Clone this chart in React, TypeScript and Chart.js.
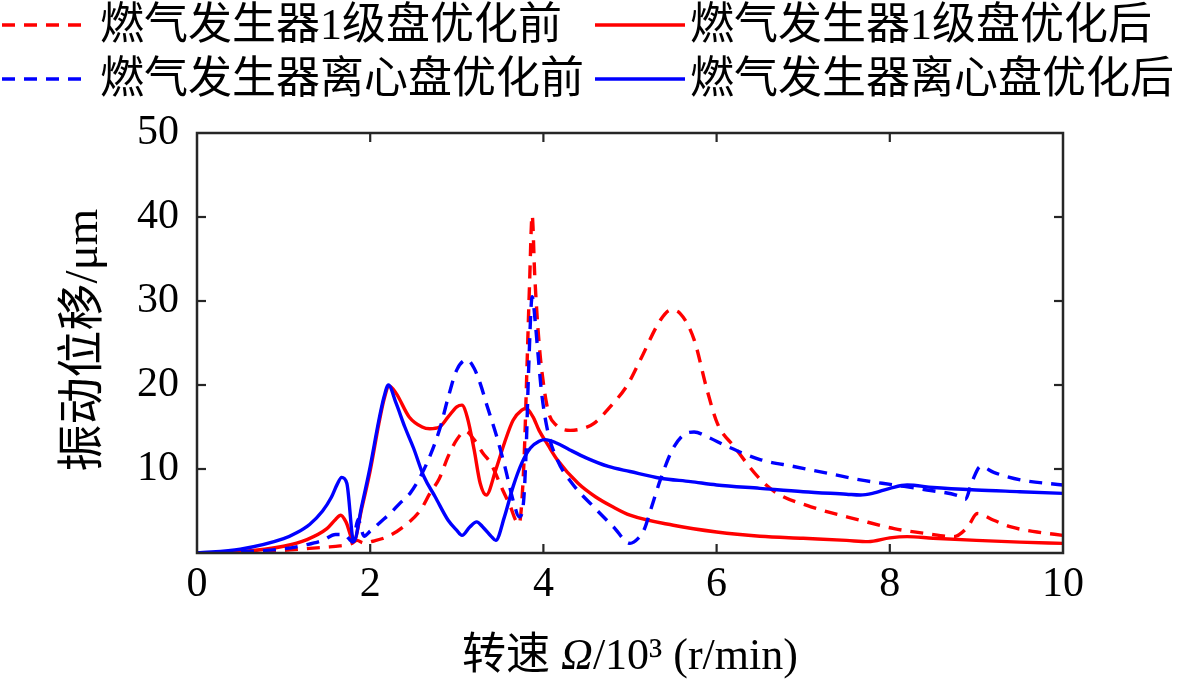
import React, { useEffect, useRef } from "react";
import { Chart, registerables } from "chart.js";

Chart.register(...registerables);

// ---------------- data ----------------
const seriesLabels = [
  "燃气发生器1级盘优化前",
  "燃气发生器1级盘优化后",
  "燃气发生器离心盘优化前",
  "燃气发生器离心盘优化后",
];

const xTicks = [0, 2, 4, 6, 8, 10];
const yTicks = [10, 20, 30, 40, 50];

// 1级盘优化前 (red dashed)
const stage1BeforeX = [0, 0.5, 1.0, 1.3, 1.5, 1.65, 1.78, 1.85, 1.92, 2.05, 2.2, 2.38, 2.58, 2.69, 2.8, 2.9, 3.0, 3.1, 3.2, 3.3, 3.39, 3.53, 3.62, 3.68, 3.72, 3.75, 3.78, 3.81, 3.84, 3.87, 3.9, 3.95, 4.0, 4.06, 4.15, 4.31, 4.45, 4.58, 4.77, 4.97, 5.12, 5.35, 5.47, 5.58, 5.74, 5.89, 6.01, 6.2, 6.51, 6.7, 7.09, 7.66, 8.05, 8.43, 8.74, 8.9, 9.01, 9.2, 9.4, 9.7, 10];
const stage1BeforeY = [0, 0.1, 0.3, 0.55, 0.7, 0.85, 1.1, 1.5, 1.2, 1.45, 1.95, 3.1, 5.1, 7.1, 8.9, 11.5, 13.5, 14.5, 13.5, 11.9, 10.7, 7.5, 5.5, 3.9, 3.5, 6, 12, 22, 32, 40.2, 33, 25, 20.2, 16.7, 15.2, 14.6, 14.8, 15.4, 17.4, 20.0, 23.0, 27.7, 28.9, 28.5, 25.4, 19.4, 15.4, 12.7, 8.7, 7.1, 5.5, 3.9, 2.9, 2.3, 1.95, 3.1, 4.7, 3.9, 3.1, 2.5, 2.1];

// 1级盘优化后 (red solid)
const stage1AfterX = [0, 0.5, 1.0, 1.27, 1.5, 1.6, 1.66, 1.72, 1.81, 1.9, 2.0, 2.1, 2.16, 2.22, 2.3, 2.45, 2.6, 2.69, 2.8, 2.9, 3.0, 3.06, 3.12, 3.2, 3.27, 3.34, 3.45, 3.55, 3.65, 3.75, 3.8, 3.88, 3.95, 4.05, 4.16, 4.4, 4.6, 4.8, 5.0, 5.5, 6.0, 6.5, 7.0, 7.5, 7.75, 8.0, 8.2, 8.5, 9.0, 9.5, 10];
const stage1AfterY = [0, 0.15, 0.8, 1.6, 2.9, 4.0, 4.5, 3.7, 1.4, 5.2, 9.8, 15.4, 18.3, 19.9, 19.0, 16.2, 15.0, 14.8, 15.0, 16.2, 17.4, 17.6, 16.2, 12.3, 8.3, 6.9, 9.9, 13.1, 15.8, 17.0, 17.2, 16.2, 14.6, 12.9, 11.1, 8.3, 6.7, 5.5, 4.5, 3.3, 2.5, 2.0, 1.75, 1.5, 1.35, 1.8, 1.95, 1.75, 1.5, 1.3, 1.15];

// 离心盘优化前 (blue dashed)
const centBeforeX = [0, 0.5, 1.0, 1.27, 1.45, 1.6, 1.7, 1.8, 1.86, 1.93, 2.0, 2.12, 2.23, 2.35, 2.46, 2.58, 2.7, 2.81, 2.9, 3.0, 3.12, 3.2, 3.27, 3.35, 3.46, 3.55, 3.66, 3.72, 3.77, 3.8, 3.83, 3.87, 3.91, 3.94, 3.98, 4.05, 4.16, 4.33, 4.58, 4.81, 5.0, 5.1, 5.16, 5.25, 5.35, 5.5, 5.66, 5.74, 5.9, 6.12, 6.51, 6.89, 7.28, 7.66, 8.05, 8.43, 8.82, 8.87, 8.95, 9.05, 9.2, 9.51, 10];
const centBeforeY = [0, 0.15, 0.5, 1.0, 1.5, 2.2, 2.2, 1.3, 4.0, 2.0, 2.6, 3.7, 4.7, 6.0, 7.1, 9.1, 11.8, 15.0, 18.5, 21.8, 23.0, 22.0, 20.2, 17.5, 13.9, 10.5, 5.9, 4.3, 6.0, 12.0, 22.0, 30.5, 27.0, 23.4, 19.0, 14.5, 11.1, 8.3, 5.5, 3.1, 1.15, 1.8, 2.7, 5.5, 8.7, 12.5, 14.3, 14.4, 13.8, 12.7, 11.1, 10.3, 9.5, 8.7, 8.1, 7.5, 6.7, 6.4, 8.5, 10.3, 9.6, 8.7, 8.1];

// 离心盘优化后 (blue solid)
const centAfterX = [0, 0.5, 1.0, 1.15, 1.3, 1.45, 1.55, 1.62, 1.67, 1.73, 1.81, 1.9, 2.0, 2.1, 2.16, 2.21, 2.3, 2.4, 2.5, 2.62, 2.75, 2.9, 3.0, 3.06, 3.15, 3.23, 3.3, 3.4, 3.45, 3.55, 3.65, 3.75, 3.85, 3.95, 4.02, 4.15, 4.3, 4.5, 4.75, 5.0, 5.35, 5.7, 6.0, 6.5, 7.0, 7.5, 7.66, 7.8, 8.0, 8.2, 8.5, 9.0, 9.5, 10];
const centAfterY = [0, 0.45, 1.7, 2.4, 3.4, 5.0, 6.6, 8.2, 9.0, 8.3, 1.35, 5.5, 10.3, 15.8, 18.6, 20.0, 17.8, 15.0, 12.5, 9.1, 6.7, 3.9, 2.7, 2.1, 3.1, 3.7, 3.1, 1.95, 1.5, 4.3, 7.9, 10.7, 12.5, 13.3, 13.5, 13.1, 12.3, 11.3, 10.3, 9.7, 8.9, 8.5, 8.1, 7.7, 7.3, 7.0, 6.9, 7.1, 7.7, 8.1, 7.8, 7.5, 7.3, 7.1];

const xTitleParts = ["转速 ", "Ω", "/10³ (r/min)"];
const yTitle = "振动位移/μm";

// ---------------- styles / layout ----------------
const W = 1181;
const H = 682;
const AREA = { left: 197, right: 1063, top: 133, bottom: 553 };
const RED = "#ff0000";
const BLUE = "#0000ff";
const DASH = [13, 9];
const LINE_W = 3.4;
const AXIS_COLOR = "#262626";
const SERIF = "'Liberation Serif', 'Times New Roman', serif";
const MIXED = "'Liberation Serif', 'Noto Sans CJK SC', serif";

const legendCols = [
  { lineFrom: 2, lineTo: 88, textX: 100 },
  { lineFrom: 595, lineTo: 685, textX: 690 },
];
const legendRows = [25, 79];

const pts = (xs: number[], ys: number[]) => xs.map((x, i) => ({ x, y: ys[i] }));

const framePlugin = {
  id: "frame",
  afterDraw(chart: any) {
    const { ctx, chartArea: a, scales } = chart;
    const sx = scales.x;
    const sy = scales.y;
    ctx.save();
    ctx.strokeStyle = AXIS_COLOR;
    ctx.lineWidth = 2.5;
    ctx.strokeRect(a.left, a.top, a.right - a.left, a.bottom - a.top);
    ctx.lineWidth = 2.2;
    const TL = 9;
    const seg = (x1: number, y1: number, x2: number, y2: number) => {
      ctx.beginPath();
      ctx.moveTo(x1, y1);
      ctx.lineTo(x2, y2);
      ctx.stroke();
    };
    xTicks.forEach((v) => {
      if (v <= sx.min || v >= sx.max) return;
      const p = sx.getPixelForValue(v);
      seg(p, a.bottom, p, a.bottom - TL);
      seg(p, a.top, p, a.top + TL);
    });
    yTicks.forEach((v) => {
      if (v <= sy.min || v >= sy.max) return;
      const p = sy.getPixelForValue(v);
      seg(a.left, p, a.left + TL, p);
      seg(a.right, p, a.right - TL, p);
    });

    // legend
    const ds = chart.data.datasets;
    ctx.font = `44px ${MIXED}`;
    ctx.textBaseline = "middle";
    ctx.textAlign = "left";
    ctx.fillStyle = "#000";
    ds.forEach((d: any, i: number) => {
      const col = legendCols[i % 2];
      const y = legendRows[Math.floor(i / 2)];
      ctx.save();
      ctx.strokeStyle = d.borderColor;
      ctx.lineWidth = LINE_W;
      ctx.setLineDash(d.borderDash || []);
      seg(col.lineFrom, y, col.lineTo, y);
      ctx.restore();
      ctx.fillText(d.label, col.textX, y + 2);
    });

    // x title
    const fonts = [`44px ${MIXED}`, `italic 44px ${SERIF}`, `44px ${MIXED}`];
    let total = 0;
    const widths = xTitleParts.map((t, i) => {
      ctx.font = fonts[i];
      const w = ctx.measureText(t).width;
      total += w;
      return w;
    });
    let cx = (a.left + a.right) / 2 - total / 2;
    const ty = 657;
    xTitleParts.forEach((t, i) => {
      ctx.font = fonts[i];
      ctx.fillText(t, cx, ty);
      cx += widths[i];
    });

    // y title
    ctx.save();
    ctx.translate(85, 340);
    ctx.rotate(-Math.PI / 2);
    ctx.font = `47px ${MIXED}`;
    ctx.textAlign = "center";
    ctx.fillText(yTitle, 0, 0);
    ctx.restore();

    ctx.restore();
  },
};

export default function App() {
  const ref = useRef<HTMLCanvasElement | null>(null);

  useEffect(() => {
    if (!ref.current) return;
    const common = {
      borderWidth: LINE_W,
      pointRadius: 0,
      fill: false,
      cubicInterpolationMode: "monotone" as const,
    };
    const chart = new Chart(ref.current, {
      type: "line",
      data: {
        datasets: [
          { ...common, label: seriesLabels[0], data: pts(stage1BeforeX, stage1BeforeY), borderColor: RED, borderDash: DASH, order: 4 },
          { ...common, label: seriesLabels[1], data: pts(stage1AfterX, stage1AfterY), borderColor: RED, order: 3 },
          { ...common, label: seriesLabels[2], data: pts(centBeforeX, centBeforeY), borderColor: BLUE, borderDash: DASH, order: 2 },
          { ...common, label: seriesLabels[3], data: pts(centAfterX, centAfterY), borderColor: BLUE, order: 1 },
        ],
      },
      options: {
        animation: false,
        responsive: false,
        maintainAspectRatio: false,
        layout: {
          padding: { left: 0, top: AREA.top, right: W - AREA.right, bottom: 0 },
        },
        plugins: {
          legend: { display: false },
          tooltip: { enabled: false },
          title: { display: false },
        },
        scales: {
          x: {
            type: "linear",
            min: 0,
            max: 10,
            grid: { display: false, drawTicks: false },
            border: { display: false },
            ticks: {
              stepSize: 2,
              padding: 7,
              color: "#000",
              font: { family: SERIF, size: 42 },
              maxRotation: 0,
            },
            afterFit: (s: any) => {
              s.height = H - AREA.bottom;
            },
          },
          y: {
            type: "linear",
            min: 0,
            max: 50,
            grid: { display: false, drawTicks: false },
            border: { display: false },
            ticks: {
              stepSize: 10,
              padding: 18,
              color: "#000",
              font: { family: SERIF, size: 42 },
              callback: (v: any) => (v === 0 ? "" : String(v)),
            },
            afterFit: (s: any) => {
              s.width = AREA.left;
            },
          },
        },
      },
      plugins: [framePlugin],
    });
    return () => chart.destroy();
  }, []);

  return (
    <div style={{ position: "fixed", left: 0, top: 0, width: W, height: H, background: "#fff" }}>
      <canvas ref={ref} width={W} height={H} style={{ width: W, height: H, display: "block" }} />
    </div>
  );
}
